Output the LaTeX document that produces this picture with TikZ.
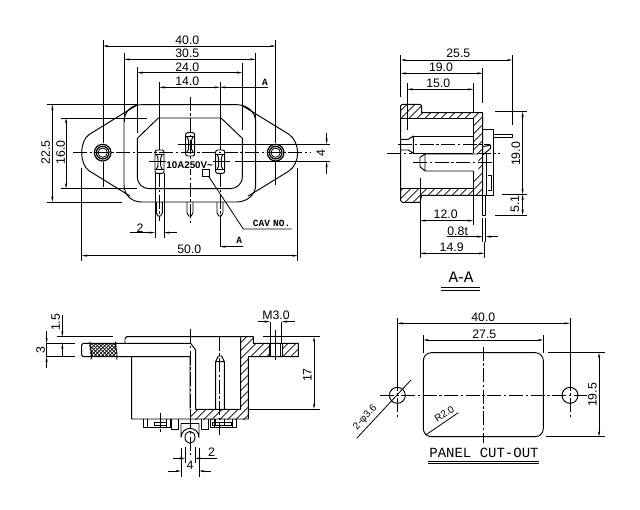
\documentclass[tikz,border=0pt]{standalone}
\usepackage{fontspec}
\setmainfont{Liberation Sans}
\newfontfamily\slab{Liberation Mono}
\usetikzlibrary{arrows.meta}
\tikzset{
 ol/.style={line width=0.95pt,line join=round},
 th/.style={line width=0.8pt},
 hl/.style={line width=0.65pt},
 cl/.style={line width=0.8pt,dash pattern=on 14pt off 2.5pt on 2.5pt off 2.5pt},
 dm/.style={line width=0.8pt,{Stealth[length=5.5pt,width=2.2pt]}-{Stealth[length=5.5pt,width=2.2pt]}},
 ar/.style={line width=0.8pt,-{Stealth[length=5.5pt,width=2.2pt]}},
 tx/.style={inner sep=0pt,font=\fontsize{12.3}{13}\selectfont},
 tv/.style={tx,rotate=90},
 sl/.style={inner sep=0pt,font=\slab\bfseries\fontsize{9.5}{10}\selectfont},
 zoomed/.style={x=0.33333pt,y=-0.33333pt,shift={#1}},
}
\newcommand{\hatchin}[2][24]{\begin{scope}\clip #2;
 \pgfmathsetmacro{\nextc}{-100+#1}
 \foreach \c in {-100,\nextc,...,1500}{\draw[hl] (\c,-100)--(\c-1100,1000);}
 \end{scope}}
\newcommand{\blade}[2]{\begin{scope}[shift={(#1,#2)}]
 \draw[ol,rounded corners=2pt] (-13,0) rectangle (14,70);
 \draw[th] (-13,12)--(14,12) (-13,58)--(14,58);
 \draw[ol] (-9,12) .. controls (-4,20) and (-4,25) .. (-4,30) -- (-4,42) .. controls (-4,48) and (-4,52) .. (-9,58);
 \draw[ol] (9,12) .. controls (4,20) and (4,25) .. (4,30) -- (4,42) .. controls (4,48) and (4,52) .. (9,58);
 \end{scope}}
\newcommand{\tail}[1]{\begin{scope}[shift={(#1,516)}]
 \draw[ol] (-9,0) -- (-9,32) -- (-4,42) -- (4,42) -- (9,32) -- (9,0);
 \end{scope}}
\begin{document}
\begin{tikzpicture}[x=1pt,y=-1pt]
\useasboundingbox (0,0) rectangle (640,509);
\fill[white] (0,0) rectangle (640,509);
%%%% FRONT VIEW
\begin{scope}[zoomed={(90,90)}]
 \draw[ol] (318,227) -- (178,313) .. controls (162,323) and (155,348) .. (155,368) .. controls (155,390) and (162,412) .. (178,423) -- (300,498);
 \draw[ol] (637,227) -- (777,313) .. controls (793,323) and (803,348) .. (803,368) .. controls (803,390) and (793,412) .. (777,423) -- (655,498);
 \draw[ol] (282,275) .. controls (282,245) and (305,224) .. (335,224) -- (620,224) .. controls (650,224) and (677,245) .. (677,275) -- (677,465) .. controls (677,495) and (650,516) .. (620,516) -- (335,516) .. controls (305,516) and (282,495) .. (282,465) -- cycle;
 \draw[ol] (322,325) -- (385,264) -- (573,264) -- (637,325) -- (637,440) .. controls (637,462) and (620,476) .. (600,476) -- (358,476) .. controls (338,476) and (322,462) .. (322,440) -- cycle;
 \foreach \hx in {218,737}{
  \draw[line width=1.2pt] (\hx,368) circle (25);
  \draw[line width=1.2pt] (\hx,368) circle (19);
  \draw[th] (\hx,368) circle (14);
 }
 \blade{388}{360}\blade{480}{308}\blade{570}{360}
 \tail{388}\tail{480}\tail{570}
 \draw[cl] (130,368) -- (840,368);
 \draw[cl] (480,200) -- (480,582);
 \draw[cl] (388,430) -- (388,572);
 \draw[cl] (570,430) -- (570,560);
 \draw[th] (388,155) -- (388,360);
 \draw[th] (570,155) -- (570,360);
 \draw[th] (219,30) -- (219,340) (219,395) -- (219,470);
 \draw[th] (737,30) -- (737,340) (737,395) -- (737,465);
 \draw[th] (282,70) -- (282,275) (677,70) -- (677,275);
 \draw[th] (322,110) -- (322,308) (637,100) -- (637,300);
 \draw[dm] (219,48) -- (737,48);
 \draw[dm] (282,88) -- (677,88);
 \draw[dm] (322,128) -- (637,128);
 \draw[dm] (388,172) -- (570,172);
 \draw[ar] (715,172) -- (570,172);
 \node[tx] (f40) at (472,31) {40.0};
 \node[tx] (f30) at (472,71) {30.5};
 \node[tx] (f24) at (472,112) {24.0};
 \node[tx] (f14) at (472,155) {14.0};
 \node[sl] (fa1) at (705,157) {A};
 \draw[th] (50,224) -- (320,224) (50,516) -- (275,516);
 \draw[th] (92,264) -- (350,264) (92,476) -- (320,476);
 \draw[dm] (67,224) -- (67,516);
 \draw[dm] (108,264) -- (108,476);
 \node[tv] (f225) at (47,368) {22.5};
 \node[tv] (f16) at (92,368) {16.0};
 \draw[th] (445,342) -- (900,342);
 \draw[th] (358,395) -- (410,395) (535,395) -- (600,395) (615,395) -- (900,395);
 \draw[ar] (890,310) -- (890,342);
 \draw[ar] (890,432) -- (890,395);
 \node[tv] (f4) at (873,368) {4};
 \node[fill=white,inner sep=0.5pt,font=\bfseries\fontsize{9.8}{10}\selectfont] (fr) at (479,405) {10A250V\textasciitilde};
 \draw[th] (517,418) rectangle (537,438);
 \draw[th] (535,438) -- (640,597) -- (785,597);
 \node[sl] (cav) at (725,581) {CAV\,\,NO.};
 \draw[th] (375,430) -- (375,625) (402,430) -- (402,625);
 \draw[ar] (300,608) -- (375,608);
 \draw[ar] (440,608) -- (402,608);
 \node[tx] (f2) at (330,594) {2};
 \draw[th] (570,555) -- (570,650);
 \draw[ar] (640,650) -- (570,650);
 \node[sl] (fa2) at (628,632) {A};
 \draw[th] (155,415) -- (155,692) (803,415) -- (803,692);
 \draw[dm] (155,677) -- (803,677);
 \node[tx] (f50) at (478,658) {50.0};
\end{scope}
%%%% SECTION A-A
\begin{scope}[zoomed={(1110,120)}]
 \hatchin{(92,197)--(97,193)--(150,193)--(155,197)--(155,218)--(338,218)--(338,466)--(155,466)--(150,487)--(97,487)--(92,482)--(92,445)--(310,445)--(310,400)--(325,400)--(325,345)--(310,340)--(310,235)--(92,235)--cycle}
 \draw[ol] (92,197)--(97,193)--(150,193)--(155,197)--(155,218)--(338,218)--(338,466)--(155,466)--(150,487)--(97,487)--(92,482)--cycle;
 \draw[ol] (92,235)--(310,235)--(310,340) (92,445)--(310,445)--(310,393);
 \draw[ol] (130,288)--(310,288) (130,340)--(310,340);
 \draw[ol] (92,298)--(115,298)--(130,288)--(130,340)--(115,330)--(92,330);
 \draw[ol] (150,352)--(165,342)--(320,342) (150,352)--(150,380)--(165,393)--(310,393) (165,342)--(165,393);
 \draw[ol] (338,268)--(370,268)--(370,465)--(338,465);
 \draw[ol] (370,283)--(427,283)--(427,293)--(370,293);
 \draw[ol] (338,340)--(350,340)--(350,465) (338,340)--(338,525)--(347,525)--(347,465);
 \draw[ol] (338,320)--(362,315)--(362,325)--(338,345);
 \draw[ol] (355,405)--(365,405)--(365,450)--(355,450);
 \draw[ol] (338,535)--(338,605) (347,535)--(347,605);
 \draw[cl] (85,314)--(360,314);
 \draw[cl] (130,366)--(365,366);
 \draw[cl] (52,340)--(125,340) (320,340)--(390,340);
 \draw[th] (92,45)--(92,170) (427,45)--(427,255);
 \draw[th] (338,85)--(338,190);
 \draw[th] (112,130)--(112,270) (310,130)--(310,215);
 \draw[dm] (92,60)--(427,60);
 \draw[dm] (92,100)--(338,100);
 \draw[dm] (112,148)--(310,148);
 \node[tx] (s25) at (265,41) {25.5};
 \node[tx] (s19) at (213,83) {19.0};
 \node[tx] (s15) at (205,131) {15.0};
 \draw[th] (375,215)--(470,215) (395,463)--(470,463) (375,525)--(470,525);
 \draw[dm] (458,215)--(458,463);
 \draw[dm] (458,463)--(458,525);
 \node[tv] (s19v) at (438,342) {19.0};
 \node[tv] (s51) at (435,492) {5.1};
 \draw[th] (150,415)--(150,655) (310,445)--(310,555);
 \draw[dm] (150,542)--(310,542);
 \node[tx] (s12) at (227,524) {12.0};
 \draw[ar] (230,590)--(338,590);
 \draw[ar] (385,590)--(347,590);
 \node[tx] (s08) at (263,575) {0.8t};
 \draw[dm] (150,640)--(343,640);
 \draw[th] (343,605)--(343,655);
 \node[tx] (s149) at (245,622) {14.9};
 \node[inner sep=0pt,font=\slab\fontsize{16}{17}\selectfont] (saa) at (273,712) {A\hspace{-2pt}-\hspace{-2pt}A};
 \draw[ol] (213,742)--(330,742) (213,750)--(330,750);
\end{scope}
%%%% BOTTOM VIEW
\begin{scope}[zoomed={(90,900)}]
 \hatchin{(632,115)--(640,110)--(670,110)--(670,130)--(805,130)--(805,170)--(757,170)--(757,130)--(717,130)--(717,170)--(655,170)--(655,327)--(632,327)--cycle}
 \hatchin{(480,328)--(655,328)--(655,357)--(480,357)--cycle}
 \hatchin[11]{(180,130)--(260,130)--(260,170)--(180,170)--cycle}
 \begin{scope}\clip (180,130) rectangle (260,170);
 \foreach \c in {-100,-89,...,700}{\draw[hl] (\c,0)--(\c+300,300);}
 \end{scope}
 \draw[ol] (285,130)--(285,115)--(290,110)--(670,110)--(670,130)--(805,130)--(805,170)--(655,170)--(655,357)--(305,357)--(305,170);
 \draw[ol] (155,135)--(160,130)--(482,130)--(497,150)--(497,328)--(632,328)--(632,112);
 \draw[ol] (155,135)--(155,165)--(160,170)--(480,170)--(480,325);
 \draw[ol] (480,328)--(480,357);
 \draw[ol] (180,125) .. controls (175,140) and (190,155) .. (183,178);
 \draw[ol] (257,125) .. controls (252,140) and (265,155) .. (260,178);
 \draw[ol] (717,130)--(717,170) (757,130)--(757,170);
 \draw[ol] (722,130)--(722,170) (752,130)--(752,170);
 \draw[ol] (340,357)--(340,382)--(420,382)--(420,357);
 \draw[ol] (352,357)--(352,382) (408,357)--(408,382);
 \draw[ol] (425,357)--(425,388)--(445,388)--(445,357);
 \draw[ol] (515,357)--(515,388)--(535,388)--(535,357);
 \draw[ol] (540,357)--(540,382)--(620,382)--(620,357);
 \draw[ol] (552,357)--(552,382) (608,357)--(608,382);
 \draw[th] (372,367)--(408,367)--(408,375)--(372,375)--cycle;
 \draw[th] (548,367)--(605,367)--(605,375)--(548,375)--cycle;
 \draw[ol] (453,370)--(453,395) .. controls (453,400) and (453,405) .. (453,412) arc[start angle=180,end angle=360,radius=27] -- (507,370);
 \draw[ol] (453,370)--(507,370);
 \draw[ol] (480,412) ellipse (15 and 18);
 \draw[ol] (557,185)--(565,168)--(575,168)--(583,185) (557,185)--(557,328) (583,185)--(583,328) (557,185)--(583,185);
 \draw[ol] (557,357)--(557,375)--(583,375)--(583,357);
 \draw[cl] (480,88)--(480,465);
 \draw[cl] (568,110)--(568,405);
 \draw[cl] (390,338)--(390,395);
 \draw[th] (737,90)--(737,180);
 \draw[th] (80,110)--(250,110);
 \draw[th] (50,130)--(135,130) (50,170)--(135,170);
 \draw[ar] (50,92)--(50,130);
 \draw[ar] (50,205)--(50,170);
 \draw[th] (50,130)--(50,170);
 \node[tv] (b3) at (32,150) {3};
 \draw[ar] (97,45)--(97,110);
 \draw[ar] (97,170)--(97,130);
 \node[tv] (b15) at (77,67) {1.5};
 \draw[th] (720,65)--(720,130) (755,65)--(755,130);
 \draw[ar] (685,65)--(720,65);
 \draw[ar] (795,65)--(755,65);
 \node[tx] (bm3) at (738,46) {M3.0};
 \draw[th] (700,110)--(870,110) (655,327)--(870,327);
 \draw[dm] (852,110)--(852,327);
 \node[tv] (b17) at (832,225) {17};
 \draw[th] (453,445)--(453,530) (507,445)--(507,530);
 \draw[th] (465,440)--(465,490) (495,440)--(495,490);
 \draw[ar] (430,475)--(465,475);
 \draw[ar] (560,475)--(495,475);
 \node[tx] (b2) at (545,457) {2};
 \draw[ar] (415,513)--(453,513);
 \draw[ar] (543,513)--(507,513);
 \node[tx] (b4) at (480,495) {4};
\end{scope}
%%%% PANEL CUT-OUT
\begin{scope}[zoomed={(1020,900)}]
 \draw[ol,rounded corners=8pt] (250,158) rectangle (610,410);
 \draw[ol] (172,286) circle (24);
 \draw[ol] (690,286) circle (24);
 \draw[cl] (120,286)--(740,286);
 \draw[cl] (430,140)--(430,430);
 \draw[cl] (172,230)--(172,350);
 \draw[cl] (690,230)--(690,350);
 \draw[th] (172,55)--(172,230) (690,55)--(690,230);
 \draw[th] (250,105)--(250,158) (610,105)--(610,158);
 \draw[dm] (172,70)--(690,70);
 \draw[dm] (250,120)--(610,120);
 \node[tx] (p40) at (430,52) {40.0};
 \node[tx] (p27) at (433,103) {27.5};
 \draw[th] (625,158)--(795,158) (618,410)--(795,410);
 \draw[dm] (777,158)--(777,410);
 \node[tv] (p19) at (757,285) {19.5};
 \draw[th] (213,240)--(50,415);
 \node[inner sep=0pt,rotate=47,font=\fontsize{10}{11}\selectfont] (pd) at (76,353) {2-φ3.6};
 \draw[th] (257,405)--(355,338);
 \node[inner sep=0pt,rotate=33,font=\fontsize{10}{11}\selectfont] (pr) at (313,342) {R2.0};
 \node[inner sep=0pt,font=\slab\fontsize{14}{15}\selectfont] (pc) at (432,459) {PANEL CUT-OUT};
 \draw[ol] (265,483)--(597,483) (265,490)--(597,490);
\end{scope}
\end{tikzpicture}
\end{document}
